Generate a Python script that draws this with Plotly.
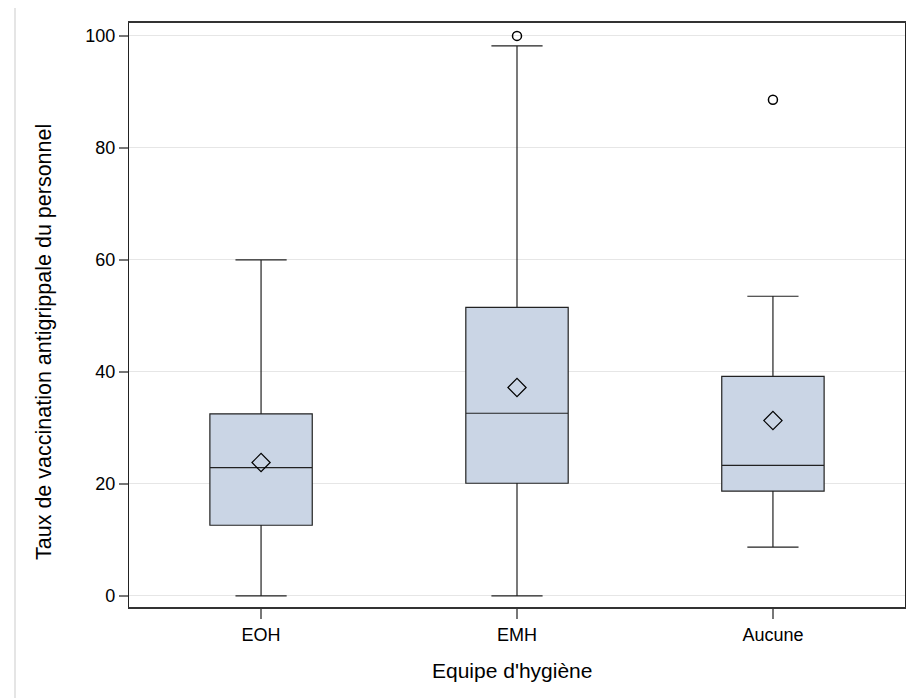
import plotly.graph_objects as go

categories = ["EOH", "EMH", "Aucune"]
q1 = [12.6, 20.1, 18.7]
median = [22.9, 32.6, 23.3]
q3 = [32.5, 51.5, 39.2]
lower_whisker = [0.0, 0.0, 8.7]
upper_whisker = [60.0, 98.2, 53.5]
means = [23.8, 37.2, 31.3]
outlier_cats = ["EMH", "Aucune"]
outlier_vals = [100.0, 88.6]

# page body has an 8px margin, so the figure origin sits at (8, 8)
OFF = 8
L, T, R, B = 129 - OFF, 23 - OFF, 905 - OFF, 607 - OFF
W, H = 917, 698
PW, PH = R - L, B - T


def px_x(x):
    return (x - OFF - L) / PW


def px_y(y):
    return (B - (y - OFF)) / PH


fig = go.Figure()
fig.add_trace(go.Box(
    x=categories, q1=q1, median=median, q3=q3,
    lowerfence=lower_whisker, upperfence=upper_whisker,
    fillcolor="#CAD5E5", line=dict(color="#222222", width=1.2),
    width=0.4, whiskerwidth=0.5, boxpoints=False, showlegend=False,
    hoverinfo="skip",
))
fig.add_trace(go.Scatter(
    x=categories, y=means, mode="markers",
    marker=dict(symbol="diamond-open", size=14, color="black", line=dict(width=1.2)),
    showlegend=False,
))
fig.add_trace(go.Scatter(
    x=outlier_cats, y=outlier_vals, mode="markers",
    marker=dict(symbol="circle-open", size=9, color="black", line=dict(width=1.5)),
    showlegend=False,
))

fig.update_layout(
    width=W, height=H,
    margin=dict(l=L, r=W - R, t=T, b=H - B),
    plot_bgcolor="white", paper_bgcolor="white",
    font=dict(family="Liberation Sans, Arial, sans-serif", size=18, color="black"),
    xaxis=dict(
        range=[-0.516, 2.516], showgrid=False, zeroline=False,
        showline=True, linecolor="#333", linewidth=2, mirror=True,
        ticks="outside", ticklen=10, tickcolor="#777", tickwidth=2,
        tickfont=dict(size=18),
    ),
    yaxis=dict(
        range=[-2.0, 102.3], tickvals=[0, 20, 40, 60, 80, 100],
        showgrid=True, gridcolor="#e6e6e6", zeroline=False,
        showline=True, linecolor="#222", linewidth=1.2, mirror=True,
        ticks="outside", ticklen=9, tickcolor="#777", tickwidth=2,
        tickfont=dict(size=18),
    ),
    annotations=[
        dict(text="Equipe d'hygiène", xref="paper", yref="paper",
             x=px_x(512), y=px_y(670), showarrow=False,
             xanchor="center", yanchor="middle", font=dict(size=21)),
        dict(text="Taux de vaccination antigrippale du personnel", xref="paper", yref="paper",
             x=px_x(44), y=px_y(342), showarrow=False, textangle=-90,
             xanchor="center", yanchor="middle", font=dict(size=21.5)),
    ],
    shapes=[dict(
        type="line", xref="paper", yref="paper",
        x0=px_x(15), x1=px_x(15),
        y0=px_y(8), y1=px_y(700),
        line=dict(color="#dddddd", width=1.5),
    )],
)

fig.write_html("out.html")
